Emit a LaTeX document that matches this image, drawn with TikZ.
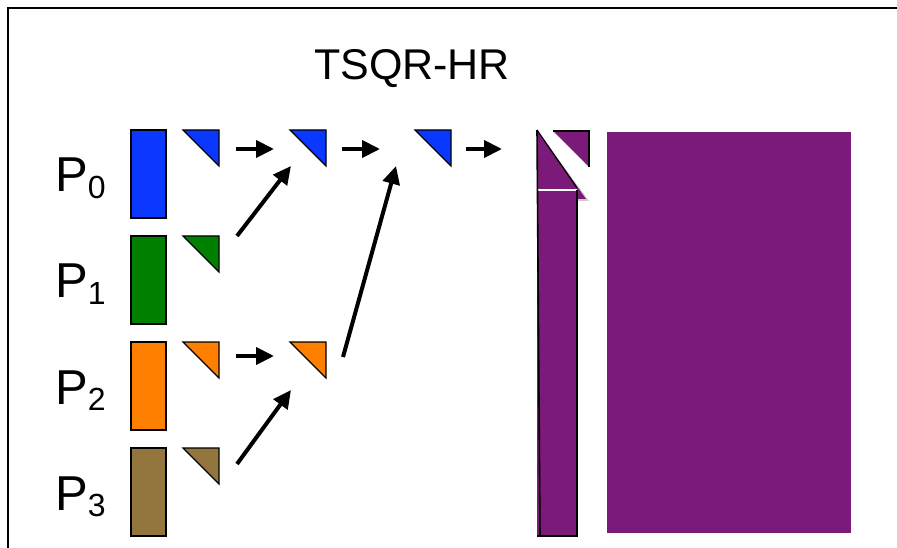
\documentclass[tikz,border=0pt]{standalone}
\usepackage{fontspec}
\setmainfont{Liberation Sans}
\usetikzlibrary{arrows.meta}
\definecolor{pblue}{RGB}{10,56,255}
\definecolor{pgreen}{RGB}{0,128,0}
\definecolor{porange}{RGB}{255,128,0}
\definecolor{pbrown}{RGB}{146,118,62}
\definecolor{ppurple}{RGB}{123,26,120}
\tikzset{
  block/.style={draw=black, line width=1.2pt},
  tri/.style={draw=black, line width=1.2pt, line join=miter},
  flow/.style={line width=4pt, -{Triangle[length=18pt,width=17pt]}},
  plabel/.style={anchor=base west, inner sep=0pt, font=\fontsize{49}{49}\selectfont},
}
% upper-right triangle with top-left corner at #1 (pixel units)
\newcommand{\uptri}[3]{%
  \fill[#3] (#1,#2) -- ++(36,0) -- ++(0,36) -- cycle;
  \draw[tri] (#1,#2) -- ++(36,0) -- ++(0,36) -- cycle;
}
\newcommand{\psub}[1]{\raisebox{-0.14em}{\fontsize{32}{32}\selectfont #1}}
\begin{document}
\begin{tikzpicture}[x=1pt,y=-1pt]
\useasboundingbox (0,0) rectangle (897,548);
\begin{scope}
\clip (0,0) rectangle (897,548);
\draw[line width=1.5pt] (8,560) -- (8,8) -- (910,8);
\end{scope}

% title
\node[font=\fontsize{43}{43}\selectfont, anchor=base] (title) at (412,80) {TSQR-HR};

% processor labels
\node[plabel] (p0) at (55,192) {P\psub{0}};
\node[plabel] (p1) at (55,298) {P\psub{1}};
\node[plabel] (p2) at (55,404) {P\psub{2}};
\node[plabel] (p3) at (55,510) {P\psub{3}};

% local blocks
\draw[block, fill=pblue]   (131,130) rectangle (166,218);
\draw[block, fill=pgreen]  (131,236) rectangle (166,324);
\draw[block, fill=porange] (131,342) rectangle (166,430);
\draw[block, fill=pbrown]  (131,448) rectangle (166,536);

% R factors of the reduction tree
\uptri{183}{130}{pblue}
\uptri{183}{236}{pgreen}
\uptri{183}{342}{porange}
\uptri{183}{448}{pbrown}
\uptri{290}{130}{pblue}
\uptri{290}{342}{porange}
\uptri{415}{130}{pblue}

% tree connectors
\coordinate (a0s) at (236,149); \coordinate (a0e) at (274,149);
\coordinate (a1s) at (342,149); \coordinate (a1e) at (380,149);
\coordinate (a2s) at (466,149); \coordinate (a2e) at (502,149);
\coordinate (a3s) at (236,356); \coordinate (a3e) at (274,356);
\coordinate (d1s) at (237,236); \coordinate (d1e) at (291,166);
\coordinate (d2s) at (343,357); \coordinate (d2e) at (396,166);
\coordinate (d3s) at (237,464); \coordinate (d3e) at (291,390);
\draw[flow] (a0s) -- (a0e);
\draw[flow] (a1s) -- (a1e);
\draw[flow] (a2s) -- (a2e);
\draw[flow] (a3s) -- (a3e);
\draw[flow] (d1s) -- (d1e);
\draw[flow] (d2s) -- (d2e);
\draw[flow] (d3s) -- (d3e);

% reconstructed Householder panel
\fill[gray!40] (537,130) -- (589,201) -- (577,201) -- cycle;
\fill[ppurple] (537,130) -- (586,199) -- (577,199) -- (577,536) -- (537,536) -- cycle;
\draw[black, line width=1.2pt] (537,130) -- (577,188);
\draw[white, line width=1.2pt] (537,190) -- (577,190);
\draw[black, line width=1.2pt] (577,190) -- (577,536) -- (537,536);
\draw[black, line width=1.6pt] (537,130) -- (540,536);

% small triangle of the panel
\fill[ppurple] (553,131) -- (589,131) -- (589,167) -- cycle;
\draw[black, line width=1.2pt] (553,131) -- (589,131) -- (589,167);

% trailing matrix
\fill[ppurple] (607,132) rectangle (851,533);
\end{tikzpicture}
\end{document}
